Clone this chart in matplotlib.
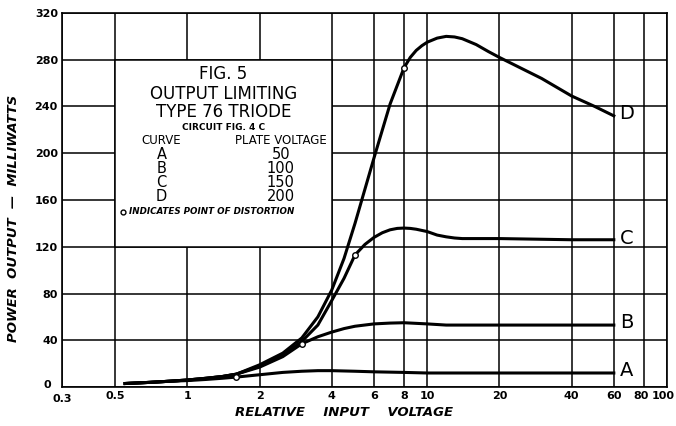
import matplotlib.pyplot as plt
from matplotlib.patches import Rectangle
from matplotlib.transforms import ScaledTranslation

# curve data (relative input voltage vs power output, mW)
x_a = [0.55, 0.7, 0.85, 1.0, 1.2, 1.4, 1.6, 2.0, 2.5, 3.0, 3.5, 4.0, 5.0, 6.0, 8.0, 10, 15, 20, 40, 60]
y_a = [3, 4, 5, 5.5, 6.5, 7.5, 8.5, 10.5, 12.5, 13.5, 14, 14, 13.5, 13, 12.5, 12, 12, 12, 12, 12]

x_b = [0.55, 0.7, 0.85, 1.0, 1.2, 1.4, 1.6, 2.0, 2.5, 3.0, 3.5, 4.0, 4.5, 5.0, 6.0, 7.0, 8.0, 10, 12, 15, 20, 40, 60]
y_b = [3, 4, 5, 6, 7.5, 9, 11, 17, 26, 37, 43, 47, 50, 52, 54, 54.7, 55, 54, 53, 53, 53, 53, 53]

x_c = [0.55, 0.7, 0.85, 1.0, 1.2, 1.4, 1.6, 2.0, 2.5, 3.0, 3.5, 4.0, 4.5, 5.0, 5.5, 6.0, 6.5, 7.0,
       7.5, 8.0, 8.5, 9.0, 10, 11, 12, 13, 14, 20, 40, 60]
y_c = [3, 4, 5, 6, 7.5, 9, 11, 18, 27, 39, 53, 74, 93, 113, 122, 128, 132, 134.5,
       135.7, 136, 135.7, 135, 133, 130, 128.5, 127.5, 127, 127, 126, 126]

x_d = [0.55, 0.7, 0.85, 1.0, 1.2, 1.4, 1.6, 2.0, 2.5, 3.0, 3.5, 4.0, 4.5, 5.0, 6.0, 7.0, 8.0,
       8.5, 9.0, 9.5, 10, 11, 12, 13, 14, 16, 18, 20, 30, 40, 50, 60]
y_d = [3, 4, 5, 6, 7.5, 9, 11, 19, 29, 42, 60, 83, 110, 140, 196, 242, 273,
       282, 288, 292, 295, 298.5, 300, 299.5, 298, 293, 287, 282, 264, 249, 240, 232]

# points of distortion
dist_x = [1.6, 3.0, 5.0, 8.0]
dist_y = [8.5, 37, 113, 273]

curve_names = ["A", "B", "C", "D"]
plate_volts = ["50", "100", "150", "200"]
label_y = [14, 55, 127, 234]

x_ticks = [0.3, 0.5, 1, 2, 4, 6, 8, 10, 20, 40, 60, 80, 100]
x_tick_labels = ["0.3", "0.5", "1", "2", "4", "6", "8", "10", "20", "40", "60", "80", "100"]
y_ticks = [0, 40, 80, 120, 160, 200, 240, 280, 320]

fig = plt.figure(figsize=(6.76, 4.26), dpi=100)
ax = fig.add_axes([0.0917, 0.0915, 0.8950, 0.878])

ax.set_xscale("log")
ax.set_xlim(0.3, 100)
ax.set_ylim(0, 320)
ax.set_xticks(x_ticks)
ax.set_xticklabels(x_tick_labels)
ax.minorticks_off()
ax.set_yticks(y_ticks)
ax.tick_params(length=0, labelsize=8, pad=3)
for lab in ax.get_xticklabels() + ax.get_yticklabels():
    lab.set_fontweight("bold")
# nudge the crowded labels a little, like the drawing
xl = ax.get_xticklabels()
xl[-1].set_transform(xl[-1].get_transform() + ScaledTranslation(-3 / 72, 0, fig.dpi_scale_trans))
xl[-2].set_transform(xl[-2].get_transform() + ScaledTranslation(-2 / 72, 0, fig.dpi_scale_trans))
xl[0].set_transform(xl[0].get_transform() + ScaledTranslation(0, -2 / 72, fig.dpi_scale_trans))
yl = ax.get_yticklabels()
yl[0].set_transform(yl[0].get_transform() + ScaledTranslation(-5 / 72, 2 / 72, fig.dpi_scale_trans))

ax.grid(True, color="black", linewidth=1.1)
ax.set_axisbelow(True)
for s in ax.spines.values():
    s.set_linewidth(1.2)

# white box for the title block
ax.add_patch(Rectangle((0.5, 120), 3.5, 160, facecolor="white", edgecolor="black",
                       linewidth=1.1, zorder=1.5))

lw = 2.2
for xs, ys in [(x_a, y_a), (x_b, y_b), (x_c, y_c), (x_d, y_d)]:
    ax.plot(xs, ys, color="black", linewidth=lw, zorder=3, solid_joinstyle="round")
ax.plot(dist_x, dist_y, "o", markersize=4, markerfacecolor="white",
        markeredgecolor="black", markeredgewidth=1, zorder=4)

for name, ly in zip(curve_names, label_y):
    ax.text(68, ly, name, fontsize=14, ha="center", va="center", zorder=4)

# title block text
cx = 1.414
ax.text(cx, 268, "FIG. 5", fontsize=12, ha="center", va="center")
ax.text(cx, 251, "OUTPUT LIMITING", fontsize=12, ha="center", va="center")
ax.text(cx, 235, "TYPE 76 TRIODE", fontsize=12, ha="center", va="center")
ax.text(cx, 222, "CIRCUIT FIG. 4 C", fontsize=6.5, ha="center", va="center", fontweight="bold")
ax.text(0.78, 211, "CURVE", fontsize=8.5, ha="center", va="center")
ax.text(2.45, 211, "PLATE VOLTAGE", fontsize=8.5, ha="center", va="center")
for i, (name, pv) in enumerate(zip(curve_names, plate_volts)):
    yy = 199 - i * 12
    ax.text(0.78, yy, name, fontsize=10.5, ha="center", va="center")
    ax.text(2.45, yy, pv, fontsize=10.5, ha="center", va="center")
ax.plot([0.54], [150], "o", markersize=3.5, markerfacecolor="white",
        markeredgecolor="black", markeredgewidth=1, zorder=4)
ax.text(0.57, 150, "INDICATES POINT OF DISTORTION", fontsize=6.3, ha="left", va="center",
        fontweight="bold", fontstyle="italic")

fig.text(344 / 676, 1 - 413 / 426, "RELATIVE    INPUT    VOLTAGE", fontsize=9.5,
         fontstyle="italic", fontweight="bold", ha="center", va="center")
fig.text(14 / 676, 1 - 218 / 426, "POWER  OUTPUT  \u2014  MILLIWATTS", fontsize=9.5,
         fontstyle="italic", fontweight="bold", ha="center", va="center", rotation=90)

plt.savefig("out.png", dpi=100)
plt.close()
